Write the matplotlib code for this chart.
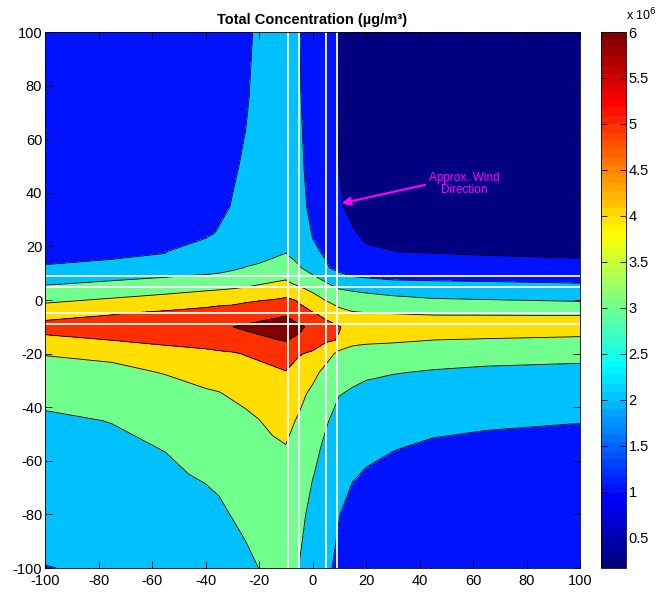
import numpy as np
import matplotlib
matplotlib.use("Agg")
import matplotlib.pyplot as plt
import matplotlib as mpl
from matplotlib.colors import ListedColormap, Normalize

plt.rcParams['font.family'] = ['Liberation Sans', 'DejaVu Sans']
plt.rcParams['axes.unicode_minus'] = False

# receptor grid (m)
x_pos = [-100, -75, -55, -40, -35, -30, -25, -20, -15, -10, -5, 0, 5, 10, 15, 20, 30, 45, 65, 100]
y_pos = [100, 75, 50, 35, 25, 18, 12, 6, 0, -5, -10, -15, -20, -27, -35, -45, -55, -65, -80, -100]

# total concentration (x 10^6 ug/m^3), one list per x position, values down the y positions
conc_by_x = [
    [1.30, 1.50, 1.70, 1.82, 1.90, 1.96, 2.01, 2.94, 3.82, 4.58, 5.38, 4.73, 4.04, 3.66, 3.20, 2.88, 2.74, 2.58, 2.33, 1.98],
    [1.35, 1.45, 1.55, 1.60, 1.63, 1.65, 2.40, 3.15, 4.11, 4.94, 5.47, 5.00, 4.14, 3.84, 3.49, 3.02, 2.85, 2.69, 2.44, 2.10],
    [1.45, 1.62, 1.78, 1.88, 1.95, 1.99, 2.09, 3.65, 4.20, 5.20, 5.56, 5.20, 4.67, 4.03, 3.75, 3.41, 3.03, 2.86, 2.60, 2.25],
    [1.55, 1.68, 1.80, 1.85, 1.88, 2.30, 2.56, 3.62, 4.50, 5.39, 5.75, 5.35, 4.80, 4.35, 3.88, 3.60, 3.35, 3.10, 2.68, 2.40],
    [1.62, 1.72, 1.80, 1.85, 2.05, 2.45, 2.68, 3.65, 4.60, 5.51, 5.90, 5.45, 4.87, 4.45, 3.95, 3.70, 3.45, 3.20, 2.83, 2.50],
    [1.70, 1.81, 1.92, 2.03, 2.30, 2.60, 2.86, 3.70, 4.70, 5.49, 5.99, 5.50, 4.93, 4.55, 4.12, 3.60, 3.40, 3.25, 3.04, 2.51],
    [1.91, 1.93, 2.08, 2.30, 2.45, 2.58, 3.03, 3.78, 4.90, 5.40, 6.15, 5.65, 5.04, 4.68, 4.28, 3.78, 3.62, 3.45, 3.20, 2.80],
    [2.08, 2.21, 2.35, 2.45, 2.55, 2.62, 3.15, 3.95, 4.97, 5.40, 6.40, 5.71, 5.15, 4.75, 4.40, 3.98, 3.80, 3.62, 3.35, 3.01],
    [2.20, 2.35, 2.50, 2.65, 2.80, 2.93, 3.10, 4.10, 5.015, 5.63, 6.55, 5.91, 5.18, 4.90, 4.60, 4.25, 3.80, 3.70, 3.50, 3.25],
    [2.30, 2.45, 2.62, 2.78, 2.88, 2.95, 3.55, 4.15, 5.15, 5.84, 6.65, 6.05, 5.55, 4.95, 4.69, 4.33, 3.96, 3.84, 3.63, 3.35],
    [2.03, 2.08, 2.20, 2.35, 2.50, 2.60, 3.10, 3.86, 4.93, 5.20, 6.20, 5.80, 5.05, 4.72, 4.33, 3.86, 3.70, 3.55, 3.32, 2.98],
    [1.50, 1.53, 1.64, 1.72, 1.95, 2.13, 2.53, 3.66, 4.30, 5.08, 5.72, 5.40, 4.89, 4.36, 3.73, 3.50, 3.30, 3.05, 2.67, 2.50],
    [1.20, 1.22, 1.28, 1.38, 1.55, 1.90, 2.10, 3.10, 3.97, 4.74, 5.30, 5.10, 4.48, 3.64, 3.40, 3.10, 2.81, 2.65, 2.45, 2.15],
    [0.95, 0.97, 0.99, 1.04, 1.20, 1.45, 1.72, 2.71, 3.62, 4.30, 5.03, 4.955, 3.70, 3.35, 3.03, 2.66, 2.50, 2.30, 2.02, 1.82],
    [0.60, 0.65, 0.75, 0.90, 1.035, 1.25, 1.50, 2.435, 3.69, 4.05, 4.78, 4.35, 3.52, 3.20, 2.91, 2.64, 2.36, 2.08, 1.64, 1.55],
    [0.45, 0.50, 0.60, 0.75, 0.92, 1.06, 1.84, 2.10, 3.69, 4.02, 4.68, 4.25, 3.42, 3.15, 2.75, 2.45, 2.20, 1.93, 1.75, 1.50],
    [0.35, 0.40, 0.50, 0.65, 0.85, 1.01, 1.47, 2.18, 3.30, 3.99, 4.60, 4.20, 3.20, 3.03, 2.72, 2.40, 2.04, 1.77, 1.62, 1.40],
    [0.28, 0.33, 0.42, 0.55, 0.75, 0.945, 1.60, 2.10, 3.10, 3.92, 4.57, 3.99, 3.30, 2.95, 2.62, 2.20, 1.89, 1.80, 1.60, 1.35],
    [0.22, 0.27, 0.36, 0.50, 0.70, 0.80, 1.72, 2.05, 3.03, 3.92, 4.52, 3.93, 3.40, 2.80, 2.50, 2.12, 1.79, 1.72, 1.55, 1.30],
    [0.17, 0.22, 0.31, 0.45, 0.65, 0.71, 1.43, 2.03, 2.90, 3.905, 4.50, 3.82, 3.35, 2.67, 2.35, 2.03, 1.73, 1.65, 1.50, 1.25],
]

contour_levels = [1, 2, 3, 4, 5, 6]
cbar_ticks = [0.5, 1, 1.5, 2, 2.5, 3, 3.5, 4, 4.5, 5, 5.5, 6]
road_x = [-9, -5, 5, 9]
road_y = [9, 5, -5, -9]
c_min, c_max = 0.17, 6.0


def mljet(f):
    f = float(np.clip(f, 0, 1))
    r = np.clip(1.5 - abs(4 * f - 3), 0, 1)
    g = np.clip(1.5 - abs(4 * f - 2), 0, 1)
    b = np.clip(1.5 - abs(4 * f - 1), 0, 1)
    return (r, g, b)


X, Y = np.meshgrid(x_pos, y_pos)
Z = np.array(conc_by_x).T

fig = plt.figure(figsize=(6.61, 5.92), dpi=100)
ax = fig.add_axes([0.0681, 0.0405, 0.8094, 0.9054])

fill_levels = [0] + contour_levels + [7]
lower_vals = [c_min] + contour_levels
band_colors = [mljet((v - c_min) / (c_max - c_min)) for v in lower_vals]
ax.contourf(X, Y, Z, levels=fill_levels, colors=band_colors)
ax.contour(X, Y, Z, levels=contour_levels, colors='k', linewidths=0.6)

for xv in road_x:
    ax.axvline(xv, color='white', lw=1.3)
for yv in road_y:
    ax.axhline(yv, color='white', lw=1.3)

ax.set_xlim(-100, 100)
ax.set_ylim(-100, 100)
ax.set_xticks(np.arange(-100, 101, 20))
ax.set_yticks(np.arange(-100, 101, 20))
ax.tick_params(direction='in', top=True, right=True, length=5, width=0.6, labelsize=10.5, pad=2)
ax.tick_params(axis='x', pad=4)
for s in ax.spines.values():
    s.set_linewidth(0.6)

ax.set_title('Total Concentration (µg/m³)', fontsize=10.5, fontweight='bold', pad=6)

ax.annotate('Approx. Wind\nDirection', xy=(10.9, 36.1), xytext=(56.8, 43.3),
            color='#ff00ff', fontsize=8.5, ha='center', va='center', linespacing=1.05,
            arrowprops=dict(arrowstyle='-|>', color='#ff00ff', lw=1.5, relpos=(0.0, 0.5),
                            mutation_scale=13, shrinkA=1, shrinkB=0))

cax = fig.add_axes([0.9092, 0.0405, 0.0378, 0.9054])
jet64 = ListedColormap([mljet(i / 63) for i in range(64)])
cb = mpl.colorbar.ColorbarBase(cax, cmap=jet64, norm=Normalize(c_min, c_max), orientation='vertical')
cb.set_ticks(cbar_ticks)
cb.set_ticklabels([f'{t:g}' for t in cbar_ticks])
cax.tick_params(direction='in', left=True, right=True, labelleft=False, labelright=True,
                length=4, width=0.6, labelsize=10.5, pad=2)
cb.outline.set_linewidth(0.6)
fig.text(0.947, 0.966, r'x 10$^{6}$', fontsize=9, ha='left', va='baseline')

fig.savefig('out.png', dpi=100)
